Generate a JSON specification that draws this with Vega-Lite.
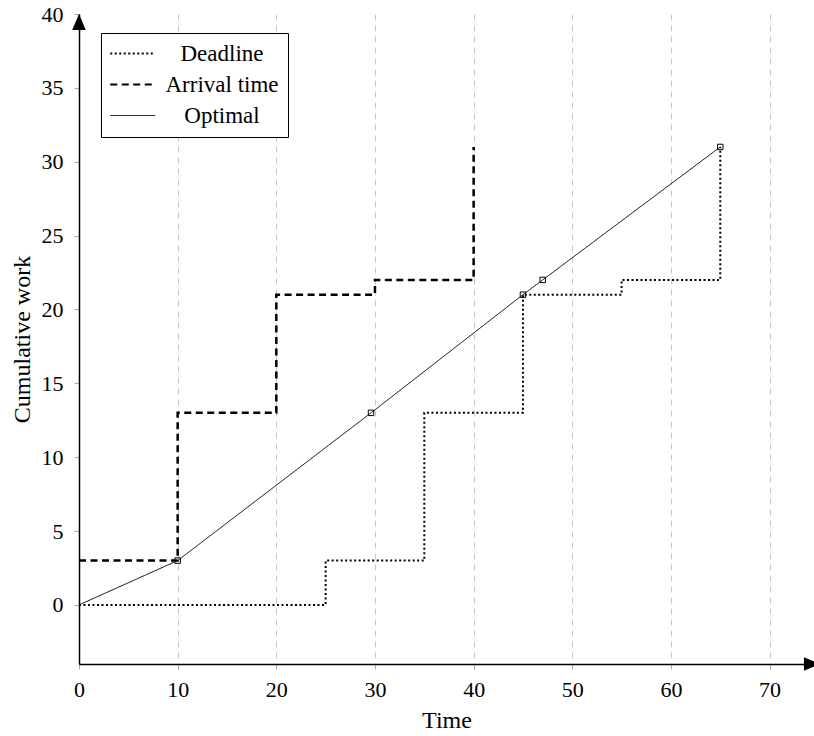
{
  "$schema": "https://vega.github.io/schema/vega-lite/v6.json",
  "width": 735,
  "height": 650,
  "autosize": "none",
  "padding": {"left": 79, "top": 14, "right": 0, "bottom": 72},
  "background": "white",
  "config": {
    "font": "Liberation Serif",
    "view": {"stroke": null},
    "axis": {
      "labelFont": "Liberation Serif",
      "labelFontSize": 22,
      "labelColor": "black",
      "titleFont": "Liberation Serif",
      "titleFontSize": 24,
      "titleFontWeight": "normal",
      "titleColor": "black",
      "domainColor": "black",
      "domainWidth": 1.5,
      "tickColor": "#aaaaaa",
      "tickSize": 5,
      "labelFlush": false,
      "labelOverlap": false
    }
  },
  "datasets": {
    "lines": [
      {"series": "Deadline", "t": 0, "w": 0, "marker": false},
      {"series": "Deadline", "t": 25, "w": 3, "marker": false},
      {"series": "Deadline", "t": 35, "w": 13, "marker": false},
      {"series": "Deadline", "t": 45, "w": 21, "marker": false},
      {"series": "Deadline", "t": 55, "w": 22, "marker": false},
      {"series": "Deadline", "t": 65, "w": 31, "marker": false},
      {"series": "Arrival time", "t": 0, "w": 3, "marker": false},
      {"series": "Arrival time", "t": 10, "w": 13, "marker": false},
      {"series": "Arrival time", "t": 20, "w": 21, "marker": false},
      {"series": "Arrival time", "t": 30, "w": 22, "marker": false},
      {"series": "Arrival time", "t": 40, "w": 31, "marker": false},
      {"series": "Optimal", "t": 0, "w": 0, "marker": false},
      {"series": "Optimal", "t": 10, "w": 3, "marker": true},
      {"series": "Optimal", "t": 29.6, "w": 13, "marker": true},
      {"series": "Optimal", "t": 45, "w": 21, "marker": true},
      {"series": "Optimal", "t": 47, "w": 22, "marker": true},
      {"series": "Optimal", "t": 65, "w": 31, "marker": true}
    ]
  },
  "layer": [
    {
      "data": {"name": "lines"},
      "transform": [{"filter": "datum.series === 'Deadline'"}],
      "mark": {"type": "line", "interpolate": "step-after", "color": "black", "strokeWidth": 2},
      "encoding": {
        "x": {
          "field": "t", "type": "quantitative",
          "scale": {"domain": [0, 74.5], "nice": false, "zero": false},
          "axis": {
            "title": "Time",
            "values": [0, 10, 20, 30, 40, 50, 60, 70],
            "grid": true,
            "gridColor": "#c8c8c8",
            "gridDash": [6, 5],
            "gridWidth": 1,
            "labelPadding": 10,
            "titlePadding": 8
          }
        },
        "y": {
          "field": "w", "type": "quantitative",
          "scale": {"domain": [-4, 40], "nice": false, "zero": false},
          "axis": {
            "title": "Cumulative work",
            "values": [0, 5, 10, 15, 20, 25, 30, 35, 40],
            "grid": false,
            "labelPadding": 11,
            "titlePadding": 7
          }
        },
        "strokeDash": {
          "field": "series", "type": "nominal",
          "scale": {"domain": ["Deadline", "Arrival time", "Optimal"], "range": [[2, 2.5], [7, 4.5], [1, 0]]},
          "legend": {
            "title": null,
            "orient": "none",
            "legendX": 22,
            "legendY": 19,
            "symbolType": "M-1,0L3,0",
            "symbolSize": 506,
            "symbolStrokeColor": "black",
            "symbolFillColor": "transparent",
            "labelFont": "Liberation Serif",
            "labelFontSize": 23,
            "labelColor": "black",
            "labelAlign": "center",
            "labelOffset": 89,
            "labelLimit": 300,
            "strokeColor": "black",
            "fillColor": "white",
            "padding": 9,
            "rowPadding": 7,
            "encode": {
              "symbols": {"update": {"strokeWidth": {"signal": "datum.value === 'Optimal' ? 1 : (datum.value === 'Deadline' ? 1.8 : 2.2)"}}}
            }
          }
        }
      }
    },
    {
      "data": {"name": "lines"},
      "transform": [{"filter": "datum.series === 'Arrival time'"}],
      "mark": {"type": "line", "interpolate": "step-after", "color": "black", "strokeWidth": 2.5},
      "encoding": {
        "x": {"field": "t", "type": "quantitative"},
        "y": {"field": "w", "type": "quantitative"},
        "strokeDash": {"field": "series", "type": "nominal"}
      }
    },
    {
      "data": {"name": "lines"},
      "transform": [{"filter": "datum.series === 'Optimal'"}],
      "mark": {"type": "line", "color": "black", "strokeWidth": 1},
      "encoding": {
        "x": {"field": "t", "type": "quantitative"},
        "y": {"field": "w", "type": "quantitative"},
        "strokeDash": {"field": "series", "type": "nominal"}
      }
    },
    {
      "data": {"name": "lines"},
      "transform": [{"filter": "datum.marker"}],
      "mark": {"type": "point", "shape": "square", "filled": false, "color": "black", "size": 30, "strokeWidth": 1, "opacity": 1},
      "encoding": {
        "x": {"field": "t", "type": "quantitative"},
        "y": {"field": "w", "type": "quantitative"}
      }
    },
    {
      "data": {"values": [{"ax": "y"}]},
      "mark": {"type": "point", "shape": "M0,0L0.85,2L-0.85,2Z", "filled": true, "color": "black", "size": 256, "opacity": 1},
      "encoding": {"x": {"datum": 0, "type": "quantitative"}, "y": {"datum": 40, "type": "quantitative"}}
    },
    {
      "data": {"values": [{"ax": "x"}]},
      "mark": {"type": "point", "shape": "M0,0L-2,-0.85L-2,0.85Z", "filled": true, "color": "black", "size": 256, "opacity": 1},
      "encoding": {"x": {"datum": 75.1, "type": "quantitative"}, "y": {"datum": -4, "type": "quantitative"}}
    }
  ]
}
